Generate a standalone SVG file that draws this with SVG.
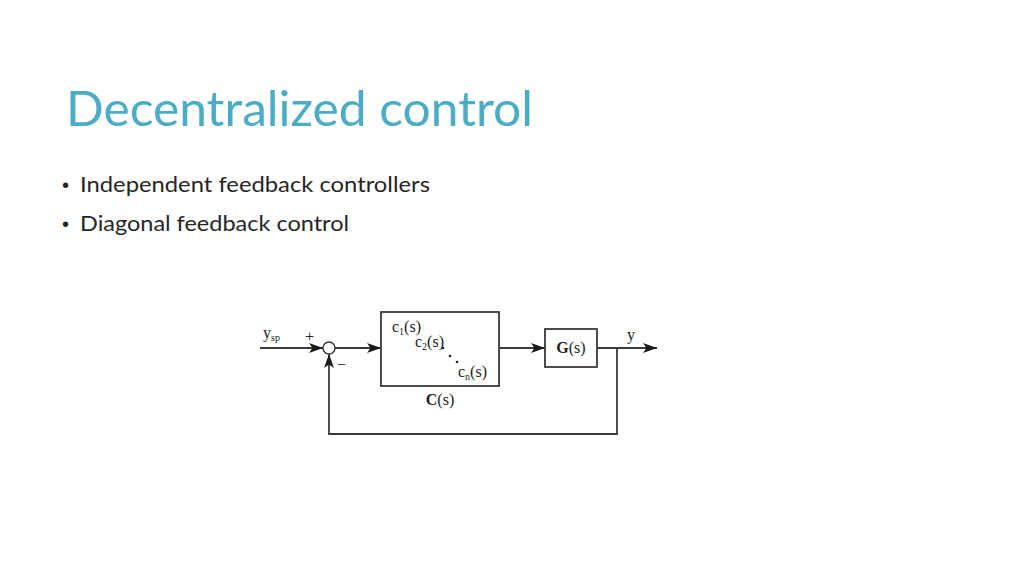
<svg xmlns="http://www.w3.org/2000/svg" width="1024" height="576" viewBox="0 0 1024 576">
<style>
.title{font-family:Lato,"Open Sans","Liberation Sans",sans-serif;font-size:49px;fill:#4bacc6}
.bul{font-family:Lato,"Open Sans","Liberation Sans",sans-serif;font-size:21px;fill:#262626}
.dot{font-family:"Liberation Sans",sans-serif;font-size:20px;fill:#262626}
.m{font-family:"Liberation Serif","Times New Roman",serif;font-size:16px;fill:#222}
.sub{font-size:10px}
.ln{fill:none;stroke:#3a3a3a;stroke-width:1.8}
.box{fill:#fff;stroke:#3a3a3a;stroke-width:1.8}
</style>
<defs>
<marker id="ah" viewBox="0 0 14 10" refX="14" refY="5" markerWidth="14" markerHeight="10" markerUnits="userSpaceOnUse" orient="auto">
<path d="M0,0 L14,5 L0,10 L3.5,5 Z" fill="#1a1a1a"/>
</marker>
</defs>
<rect width="1024" height="576" fill="#fff"/>
<text class="title" x="66" y="126" textLength="467" lengthAdjust="spacingAndGlyphs">Decentralized control</text>
<text class="dot" x="62" y="192">•</text>
<text class="bul" x="80" y="192" textLength="350" lengthAdjust="spacingAndGlyphs">Independent feedback controllers</text>
<text class="dot" x="62" y="231">•</text>
<text class="bul" x="80" y="231" textLength="269" lengthAdjust="spacingAndGlyphs">Diagonal feedback control</text>

<g id="connectors">
<line class="ln" x1="260" y1="348" x2="323" y2="348" marker-end="url(#ah)"/>
<line class="ln" x1="335" y1="348" x2="381" y2="348" marker-end="url(#ah)"/>
<line class="ln" x1="499" y1="348" x2="545" y2="348" marker-end="url(#ah)"/>
<line class="ln" x1="597" y1="348" x2="657" y2="348" marker-end="url(#ah)"/>
<polyline class="ln" points="617,348 617,434 329,434 329,354" marker-end="url(#ah)"/>
</g>

<g id="sum">
<circle cx="329" cy="348" r="6" fill="#fff" stroke="#3a3a3a" stroke-width="1.5"/>
<text class="m" x="305" y="342" fill="#555" font-size="17">+</text>
<text class="m" x="337" y="370" fill="#555" font-size="17">−</text>
</g>

<g id="ysp">
<text class="m" x="263" y="338">y<tspan class="sub" dy="3">sp</tspan></text>
</g>

<g id="C">
<rect class="box" x="381" y="312" width="118" height="74"/>
<text class="m" x="392" y="332">c<tspan class="sub" dy="3">1</tspan><tspan dy="-3">(s)</tspan></text>
<text class="m" x="415" y="347">c<tspan class="sub" dy="3">2</tspan><tspan dy="-3">(s)</tspan></text>
<circle cx="443" cy="348" r="1.3" fill="#222"/>
<circle cx="450" cy="356" r="1.3" fill="#222"/>
<circle cx="457" cy="362" r="1.3" fill="#222"/>
<text class="m" x="458" y="377">c<tspan class="sub" dy="3">n</tspan><tspan dy="-3">(s)</tspan></text>
<text class="m" x="440" y="405" text-anchor="middle"><tspan font-weight="bold">C</tspan>(s)</text>
</g>

<g id="G">
<rect class="box" x="545" y="329" width="52" height="38"/>
<text class="m" x="571" y="353" text-anchor="middle"><tspan font-weight="bold">G</tspan>(s)</text>
</g>

<g id="y">
<text class="m" x="627" y="340">y</text>
</g>
</svg>
